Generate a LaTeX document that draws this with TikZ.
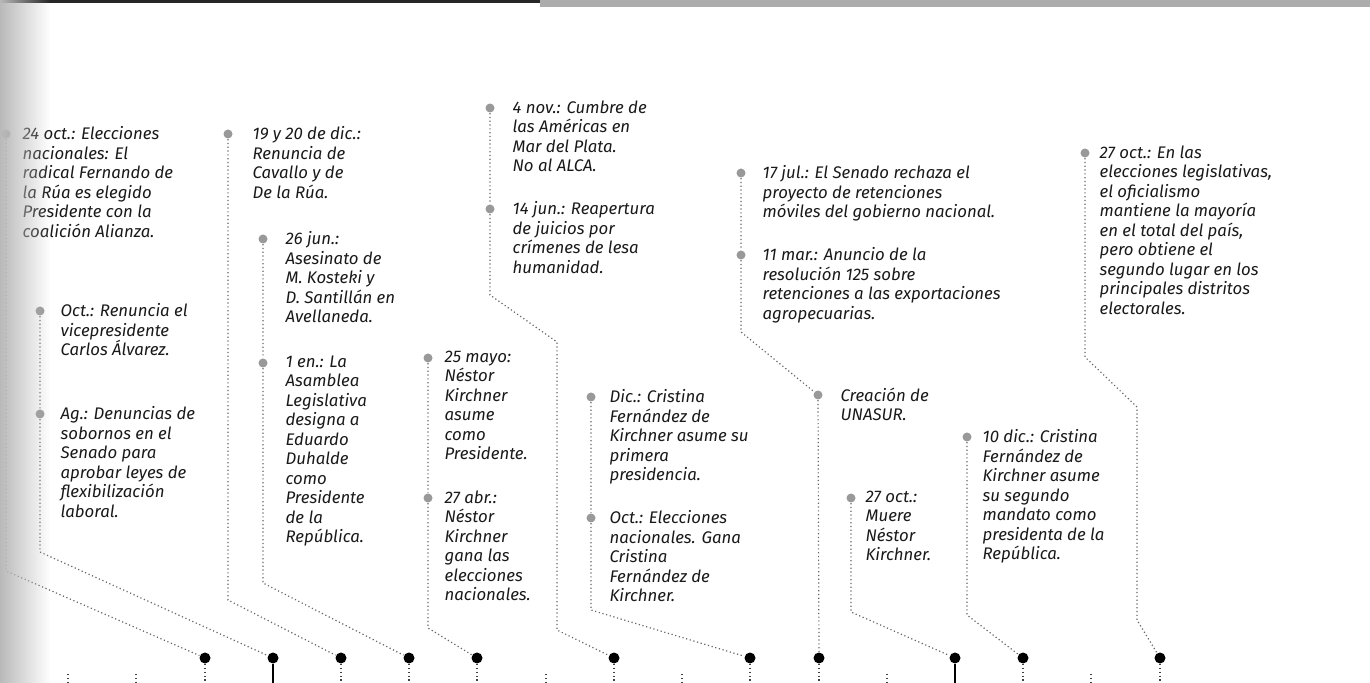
\documentclass[tikz,border=0pt]{standalone}
\usepackage{fontspec}
\setmainfont{Fira Sans}
\usetikzlibrary{positioning, fadings}

\newcommand{\notefont}{\itshape\fontsize{8.4}{9.75}\selectfont}
\tikzfading[name = fadeleft, left color = transparent!0, right color = transparent!100]

\begin{document}
\begin{tikzpicture}[x = 0.5pt, y = -0.5pt, % one unit = one pixel of the page
                semithick % line style
            ]

            \tikzstyle{event}=[circle, fill = gray!80, inner sep = 0pt,
            minimum size = 4.5pt]
            \tikzstyle{year}=[circle, fill = black, inner sep = 0pt,
            minimum size = 5.5pt]
            \tikzstyle{note}=[align = left, inner sep = 0pt, text = black!90,
            font = \notefont, execute at begin node = \strut]
            \tikzstyle{link}=[gray!80!black, line width = 0.6pt,
            dash pattern = on 0.6pt off 1.3pt]
            \tikzstyle{stub}=[black!75, line width = 0.6pt,
            dash pattern = on 0.6pt off 1.3pt]

            \useasboundingbox (0,0) rectangle (1370,683);

            % top edge of the scanned page
            \fill[black!85] (0,0) rectangle (540,3);
            \fill[gray!65] (540,0) rectangle (1370,7);

            % the axis: one dot per year with events, a tick for the others
            \foreach \yr/\x in {99/205, 00/273, 01/341, 02/409, 03/477, 05/614,
                07/750, 08/819, 10/955, 11/1023, 13/1160} {
                \node[year] (y\yr) at (\x,658) {};
                \coordinate (f\yr) at (\x,683);
                \draw[stub] (y\yr) -- (f\yr);
            }
            \foreach \x in {68, 136, 546, 682, 887, 1091}
                \draw[stub] (\x,674) -- (\x,683);
            \draw[black, line width = 0.8pt] (y00) -- (f00);
            \draw[black, line width = 0.8pt] (y10) -- (f10);

            % events
            \node[event] (e99) at (6,134) {};
            \node[note, below right = -3.9pt and 8pt of e99.center] (t99)
            {24 oct.: Elecciones\\nacionales: El\\radical Fernando de\\la Rúa es elegido\\Presidente con la\\coalición Alianza.};

            \node[event] (e00a) at (40,311) {};
            \node[note, below right = -3.9pt and 10pt of e00a.center] (t00a)
            {Oct.: Renuncia el\\vicepresidente\\Carlos Álvarez.};
            \node[event] (e00b) at (40,414) {};
            \node[note, below right = -3.9pt and 10pt of e00b.center] (t00b)
            {Ag.: Denuncias de\\sobornos en el\\Senado para\\aprobar leyes de\\flexibilización\\laboral.};

            \node[event] (e01) at (228,134) {};
            \node[note, below right = -3.9pt and 12pt of e01.center] (t01)
            {19 y 20 de dic.:\\Renuncia de\\Cavallo y de\\De la Rúa.};

            \node[event] (e02a) at (263,239) {};
            \node[note, below right = -3.9pt and 11pt of e02a.center] (t02a)
            {26 jun.:\\Asesinato de\\M. Kosteki y\\D. Santillán en\\Avellaneda.};
            \node[event] (e02b) at (263,363) {};
            \node[note, below right = -3.9pt and 11pt of e02b.center] (t02b)
            {1 en.: La\\Asamblea\\Legislativa\\designa a\\Eduardo\\Duhalde\\como\\Presidente\\de la\\República.};

            \node[event] (e03a) at (428,358) {};
            \node[note, below right = -3.9pt and 8pt of e03a.center] (t03a)
            {25 mayo:\\Néstor\\Kirchner\\asume\\como\\Presidente.};
            \node[event] (e03b) at (428,498) {};
            \node[note, below right = -3.9pt and 8pt of e03b.center] (t03b)
            {27 abr.:\\Néstor\\Kirchner\\gana las\\elecciones\\nacionales.};

            \node[event] (e05a) at (490,108) {};
            \node[note, below right = -3.9pt and 11pt of e05a.center] (t05a)
            {4 nov.: Cumbre de\\las Américas en\\Mar del Plata.\\No al ALCA.};
            \node[event] (e05b) at (490,209) {};
            \node[note, below right = -3.9pt and 11pt of e05b.center] (t05b)
            {14 jun.: Reapertura\\de juicios por\\crímenes de lesa\\humanidad.};

            \node[event] (e07a) at (591,397) {};
            \node[note, below right = -3.9pt and 9pt of e07a.center] (t07a)
            {Dic.: Cristina\\Fernández de\\Kirchner asume su\\primera\\presidencia.};
            \node[event] (e07b) at (591,518) {};
            \node[note, below right = -3.9pt and 9pt of e07b.center] (t07b)
            {Oct.: Elecciones\\nacionales. Gana\\Cristina\\Fernández de\\Kirchner.};

            \node[event] (e08a) at (741,173) {};
            \node[note, below right = -3.9pt and 10.5pt of e08a.center] (t08a)
            {17 jul.: El Senado rechaza el\\proyecto de retenciones\\móviles del gobierno nacional.};
            \node[event] (e08b) at (741,255) {};
            \node[note, below right = -3.9pt and 10.5pt of e08b.center] (t08b)
            {11 mar.: Anuncio de la\\resolución 125 sobre\\retenciones a las exportaciones\\agropecuarias.};
            \node[event] (e08c) at (818,395) {};
            \node[note, below right = -3.9pt and 11pt of e08c.center] (t08c)
            {Creación de\\UNASUR.};

            \node[event] (e10) at (851,498) {};
            \node[note, below right = -3.9pt and 7pt of e10.center] (t10)
            {27 oct.:\\Muere\\Néstor\\Kirchner.};

            \node[event] (e11) at (967,437) {};
            \node[note, below right = -3.9pt and 7.5pt of e11.center] (t11)
            {10 dic.: Cristina\\Fernández de\\Kirchner asume\\su segundo\\mandato como\\presidenta de la\\República.};

            \node[event] (e13) at (1085,153) {};
            \node[note, below right = -3.9pt and 7pt of e13.center] (t13)
            {27 oct.: En las\\elecciones legislativas,\\el oficialismo\\mantiene la mayoría\\en el total del país,\\pero obtiene el\\segundo lugar en los\\principales distritos\\electorales.};

            % bends of the dotted leaders
            \coordinate (b99) at (6,571);
            \coordinate (b00) at (40,552);
            \coordinate (b01) at (228,600);
            \coordinate (b02) at (263,583);
            \coordinate (b03) at (428,628);
            \coordinate (b05a) at (490,295); \coordinate (b05b) at (557,342);
            \coordinate (b05c) at (557,630);
            \coordinate (b07) at (591,610);
            \coordinate (b08) at (741,332);
            \coordinate (b10) at (851,612);
            \coordinate (b11) at (967,615);
            \coordinate (b13a) at (1085,357); \coordinate (b13b) at (1137,407);
            \coordinate (b13c) at (1137,620);

            \draw[link] (e99) -- (b99) -- (y99);
            \draw[link] (e00a) -- (e00b) -- (b00) -- (y00);
            \draw[link] (e01) -- (b01) -- (y01);
            \draw[link] (e02a) -- (e02b) -- (b02) -- (y02);
            \draw[link] (e03a) -- (e03b) -- (b03) -- (y03);
            \draw[link] (e05a) -- (e05b) -- (b05a) -- (b05b) -- (b05c) -- (y05);
            \draw[link] (e07a) -- (e07b) -- (b07) -- (y07);
            \draw[link] (e08a) -- (e08b) -- (b08) -- (e08c) -- (y08);
            \draw[link] (e10) -- (b10) -- (y10);
            \draw[link] (e11) -- (b11) -- (y11);
            \draw[link] (e13) -- (b13a) -- (b13b) -- (b13c) -- (y13);

            % shadow of the binding over the left margin
            \fill[gray!55, path fading = fadeleft] (0,0) rectangle (50,683);
        \end{tikzpicture}
\end{document}
